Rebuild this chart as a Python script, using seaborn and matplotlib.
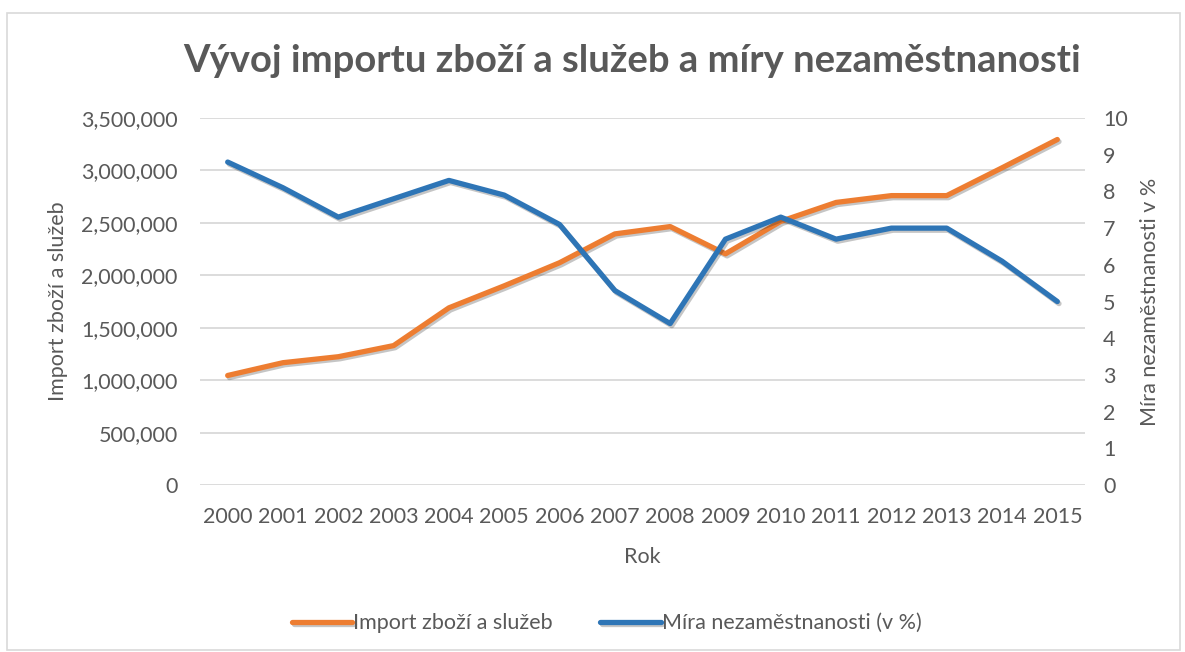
import matplotlib
matplotlib.use('Agg')
import matplotlib.pyplot as plt
import matplotlib.patheffects as pe
from matplotlib.patches import Rectangle
from matplotlib.ticker import FuncFormatter
import pandas as pd
import seaborn as sns

years = list(range(2000, 2016))
import_values = [1045000, 1167000, 1224000, 1330000, 1690000, 1900000, 2120000, 2395000,
                 2465000, 2205000, 2515000, 2695000, 2760000, 2760000, 3025000, 3295000]
unemployment = [8.8, 8.1, 7.3, 7.8, 8.3, 7.9, 7.1, 5.3, 4.4, 6.7, 7.3, 6.7, 7.0, 7.0, 6.1, 5.0]

orange = "#ED7D31"
blue = "#2E75B6"
grey_text = "#595959"
grid_grey = "#D9D9D9"
fs = 15.5

sns.set_theme(style="white")
plt.rcParams['font.family'] = ['Lato', 'DejaVu Sans']

df = pd.DataFrame({"pos": range(len(years)), "import": import_values, "unemp": unemployment})

fig = plt.figure(figsize=(11.85, 6.52), dpi=100)
ax = fig.add_axes([0.1688, 0.256, 0.7468, 0.563])
ax2 = ax.twinx()

shadow = [pe.SimpleLineShadow(offset=(1.2, -1.5), alpha=0.25, rho=0.5), pe.Normal()]

sns.lineplot(data=df, x="pos", y="import", ax=ax, color=orange, linewidth=3.8,
             label="Import zboží a služeb", legend=False, path_effects=shadow)
sns.lineplot(data=df, x="pos", y="unemp", ax=ax2, color=blue, linewidth=3.8,
             label="Míra nezaměstnanosti (v %)", legend=False, path_effects=shadow)

ax.set_xlim(-0.5, len(years) - 0.5)
ax.set_ylim(0, 3500000)
ax2.set_ylim(0, 10)
ax.set_yticks(range(0, 3500001, 500000))
ax2.set_yticks(range(0, 11))
ax.yaxis.set_major_formatter(FuncFormatter(lambda v, p: f"{int(v):,}"))
ax.set_xticks(range(len(years)))
ax.set_xticklabels([str(y) for y in years])

ax.grid(axis="y", color=grid_grey, linewidth=1.3)
ax.set_axisbelow(True)
for a in (ax, ax2):
    for s in a.spines.values():
        s.set_visible(False)
    a.tick_params(length=0, labelsize=fs, colors=grey_text)
ax.tick_params(axis="x", pad=16)
ax.tick_params(axis="y", pad=16)
ax2.tick_params(axis="y", pad=13)

ax.set_xlabel("Rok", fontsize=fs, color=grey_text, labelpad=14)
ax.set_ylabel("Import zboží a služeb", fontsize=fs, color=grey_text, va="center")
ax.yaxis.set_label_coords(-0.160, 0.5)
ax2.set_ylabel("Míra nezaměstnanosti v %", fontsize=fs, color=grey_text, rotation=90, va="center")
ax2.yaxis.set_label_coords(1.073, 0.5)

fig.text(0.533, 0.907, "Vývoj importu zboží a služeb a míry nezaměstnanosti",
         ha="center", va="center", fontsize=27.5, fontweight="bold", color=grey_text)

h1, l1 = ax.get_legend_handles_labels()
h2, l2 = ax2.get_legend_handles_labels()
fig.legend(h1 + h2, l1 + l2, loc="center", bbox_to_anchor=(0.512, 0.044), ncol=2,
           frameon=False, fontsize=fs, labelcolor=grey_text, handlelength=2.8,
           handletextpad=0.05, columnspacing=2.2)

fig.patches.append(Rectangle((0.006, 0.003), 0.99, 0.977, transform=fig.transFigure,
                             fill=False, edgecolor=grid_grey, linewidth=1.2))

fig.savefig("out.png", dpi=100)
